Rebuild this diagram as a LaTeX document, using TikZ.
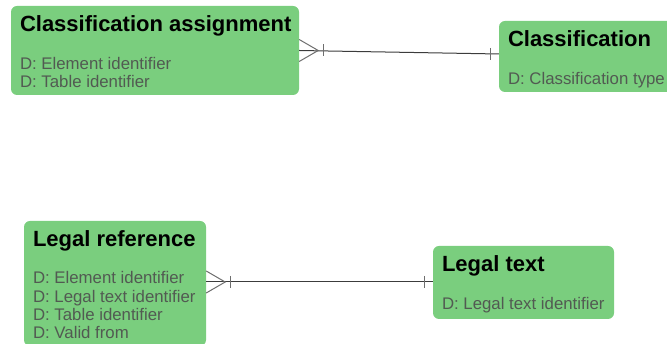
\documentclass[tikz,border=0pt]{standalone}
\usepackage{fontspec}
\setmainfont{Liberation Sans}
\usetikzlibrary{calc}
\definecolor{boxgreen}{RGB}{122,206,126}
\definecolor{attrgrey}{RGB}{82,90,82}
\definecolor{linegrey}{RGB}{60,60,60}
\definecolor{footgrey}{RGB}{110,110,110}
\begin{document}
\begin{tikzpicture}[x=1pt,y=1pt,
  box/.style={fill=boxgreen, draw=none, rounded corners=6pt, inner sep=0pt},
  etitle/.style={font=\fontsize{22}{24}\selectfont\bfseries, anchor=base west, inner sep=0pt, text=black},
  eattr/.style={font=\fontsize{16.8}{18}\selectfont, anchor=base west, inner sep=0pt, text=attrgrey},
  rel/.style={draw=linegrey, line width=1pt},
  foot/.style={draw=footgrey, line width=1pt}]
\useasboundingbox (0,0) rectangle (667,344);
\clip (0,0) rectangle (667,344);

% boxes (y up: y = 344 - ypx)
\node[box, minimum width=288pt, minimum height=89pt] (b1) at (155,293.5) {};
\node[box, minimum width=200pt, minimum height=71pt] (b2) at (599,287.5) {};
\node[box, minimum width=182pt, minimum height=125pt] (b3) at (115,60.5) {};
\node[box, minimum width=181pt, minimum height=73pt] (b4) at (523.5,61.5) {};

% texts
\node[etitle] (t1) at ($(b1.north west)+(9,-25.5)$) {Classification assignment};
\node[eattr] (a11) at ($(b1.north west)+(9,-63.5)$) {D: Element identifier};
\node[eattr] (a12) at ($(b1.north west)+(9,-81.8)$) {D: Table identifier};

\node[etitle] (t2) at ($(b2.north west)+(9,-25.5)$) {Classification};
\node[eattr] (a21) at ($(b2.north west)+(9,-63.5)$) {D: Classification type};

\node[etitle] (t3) at ($(b3.north west)+(9,-26)$) {Legal reference};
\node[eattr] (a31) at ($(b3.north west)+(9,-63)$) {D: Element identifier};
\node[eattr] (a32) at ($(b3.north west)+(9,-81.3)$) {D: Legal text identifier};
\node[eattr] (a33) at ($(b3.north west)+(9,-99.6)$) {D: Table identifier};
\node[eattr] (a34) at ($(b3.north west)+(9,-117.9)$) {D: Valid from};

\node[etitle] (t4) at ($(b4.north west)+(9,-25.5)$) {Legal text};
\node[eattr] (a41) at ($(b4.north west)+(9,-63.5)$) {D: Legal text identifier};

% relation 1
\coordinate (r1a) at (b1.east);
\coordinate (r1b) at ([yshift=2.5pt]b2.west);
\draw[rel] (r1a) -- (r1b);
\draw[foot] ($(r1a)+(0,11)$) -- ($(r1a)+(19,0)$) -- ($(r1a)+(0,-11)$);
\draw[foot] ($(r1a)+(24,6)$) -- ($(r1a)+(24,-6)$);
\draw[foot] ($(r1b)+(-8,6)$) -- ($(r1b)+(-8,-6)$);

% relation 2
\coordinate (r2a) at ([yshift=1.5pt]b3.east);
\coordinate (r2b) at ([yshift=0.5pt]b4.west);
\draw[rel] (r2a) -- (r2b);
\draw[foot] ($(r2a)+(0,11)$) -- ($(r2a)+(19,0)$) -- ($(r2a)+(0,-11)$);
\draw[foot] ($(r2a)+(24,6)$) -- ($(r2a)+(24,-6)$);
\draw[foot] ($(r2b)+(-8,6)$) -- ($(r2b)+(-8,-6)$);
\end{tikzpicture}
\end{document}
